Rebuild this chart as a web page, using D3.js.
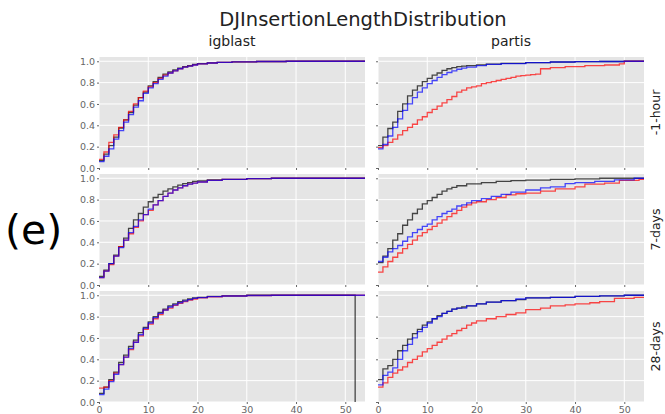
<!DOCTYPE html>
<html>
<head>
<meta charset="utf-8">
<script src="https://cdn.jsdelivr.net/npm/d3@7"></script>
<style>
  body { margin: 0; background: #fff; }
  text { font-family: "DejaVu Sans", sans-serif; }
</style>
</head>
<body>
<svg id="chart" width="665" height="414"></svg>
<script>
// facet layout labels
const methods = ["igblast", "partis"];
const timepoints = ["-1-hour", "7-days", "28-days"];
const xTicks = [0, 10, 20, 30, 40, 50];
const yTicks = [0, 0.2, 0.4, 0.6, 0.8, 1.0];
const seriesNames = ["black", "red", "blue"];

// cumulative fraction of sequences vs DJ insertion length
const igblast_1h_black = [[0,.07],[1,.13],[2,.21],[3,.29],[4,.375],[5,.45],[6,.52],[7,.59],[8,.66],[9,.71],[10,.77],[11,.81],[12,.85],[13,.88],[14,.90],[15,.92],[16,.935],[17,.95],[18,.96],[19,.97],[20,.977],[22,.985],[24,.99],[27,.995],[32,.998],[38,1],[54,1]];
const igblast_1h_red = [[0,.08],[1,.15],[2,.24],[3,.31],[4,.38],[5,.45],[6,.53],[7,.60],[8,.66],[9,.72],[10,.76],[11,.80],[12,.84],[13,.87],[14,.89],[15,.91],[16,.93],[17,.945],[18,.955],[19,.965],[20,.975],[22,.984],[24,.99],[27,.995],[32,.998],[38,1],[54,1]];
const igblast_1h_blue = [[0,.06],[1,.11],[2,.18],[3,.27],[4,.35],[5,.43],[6,.50],[7,.57],[8,.63],[9,.70],[10,.75],[11,.79],[12,.83],[13,.86],[14,.89],[15,.91],[16,.93],[17,.945],[18,.955],[19,.965],[20,.975],[22,.984],[24,.99],[27,.995],[32,.998],[38,1],[54,1]];

const partis_1h_black = [[0,.21],[1,.29],[2,.37],[3,.43],[4,.53],[5,.60],[6,.675],[7,.73],[8,.77],[9,.81],[10,.84],[11,.87],[12,.89],[13,.915],[14,.93],[15,.94],[16,.95],[17,.955],[18,.96],[20,.967],[22,.973],[25,.98],[30,.988],[35,.993],[40,.996],[45,.998],[50,1],[54,1]];
const partis_1h_red = [[0,.19],[1,.21],[2,.24],[3,.27],[4,.31],[5,.35],[6,.38],[7,.41],[8,.45],[9,.48],[10,.52],[11,.55],[12,.58],[13,.61],[14,.64],[15,.67],[16,.71],[17,.73],[18,.75],[19,.76],[20,.77],[21,.79],[22,.80],[23,.81],[24,.82],[25,.83],[26,.84],[27,.85],[28,.86],[29,.865],[30,.87],[31,.875],[32,.88],[33,.93],[35,.94],[38,.95],[42,.96],[46,.965],[49,.975],[50,1],[54,1]];
const partis_1h_blue = [[0,.18],[1,.22],[2,.30],[3,.38],[4,.46],[5,.54],[6,.60],[7,.66],[8,.71],[9,.75],[10,.79],[11,.82],[12,.85],[13,.875],[14,.895],[15,.91],[16,.925],[17,.935],[18,.945],[20,.96],[22,.97],[25,.978],[30,.988],[35,.993],[40,.996],[45,.998],[50,1],[54,1]];

const igblast_7d_black = [[0,.08],[1,.14],[2,.20],[3,.28],[4,.36],[5,.44],[6,.53],[7,.61],[8,.67],[9,.73],[10,.78],[11,.82],[12,.85],[13,.88],[14,.90],[15,.92],[16,.935],[17,.95],[18,.96],[19,.97],[20,.975],[22,.985],[25,.99],[30,.997],[35,1],[54,1]];
const igblast_7d_red = [[0,.07],[1,.13],[2,.19],[3,.27],[4,.36],[5,.42],[6,.48],[7,.54],[8,.60],[9,.66],[10,.70],[11,.75],[12,.79],[13,.83],[14,.86],[15,.89],[16,.91],[17,.93],[18,.945],[19,.955],[20,.965],[22,.98],[25,.99],[30,.997],[35,1],[54,1]];
const igblast_7d_blue = [[0,.07],[1,.13],[2,.20],[3,.27],[4,.35],[5,.42],[6,.49],[7,.55],[8,.61],[9,.66],[10,.71],[11,.75],[12,.79],[13,.83],[14,.86],[15,.89],[16,.91],[17,.93],[18,.945],[19,.955],[20,.965],[22,.98],[25,.99],[30,.997],[35,1],[54,1]];

const partis_7d_black = [[0,.21],[1,.27],[2,.34],[3,.42],[4,.48],[5,.56],[6,.61],[7,.67],[8,.71],[9,.76],[10,.79],[11,.82],[12,.85],[13,.88],[14,.90],[15,.915],[16,.93],[18,.947],[21,.96],[24,.97],[27,.978],[30,.983],[35,.99],[40,.995],[45,1],[54,1]];
const partis_7d_red = [[0,.12],[1,.17],[2,.22],[3,.26],[4,.30],[5,.34],[6,.38],[7,.42],[8,.46],[9,.49],[10,.52],[11,.55],[12,.58],[13,.61],[14,.64],[15,.67],[16,.70],[17,.73],[18,.75],[19,.77],[20,.78],[22,.80],[24,.82],[26,.845],[28,.855],[30,.86],[33,.88],[36,.90],[40,.92],[42,.945],[46,.955],[49,.98],[53,.99],[54,.99]];
const partis_7d_blue = [[0,.22],[1,.26],[2,.31],[3,.34],[4,.37],[5,.41],[6,.45],[7,.49],[8,.52],[9,.55],[10,.57],[11,.61],[12,.64],[13,.67],[14,.69],[15,.71],[16,.74],[17,.75],[18,.77],[19,.79],[21,.81],[23,.83],[25,.85],[27,.87],[30,.89],[33,.91],[35,.92],[38,.95],[40,.96],[44,.97],[48,.985],[52,1],[54,1]];

const igblast_28d_black = [[0,.08],[1,.14],[2,.21],[3,.28],[4,.37],[5,.44],[6,.52],[7,.58],[8,.65],[9,.70],[10,.75],[11,.80],[12,.84],[13,.87],[14,.90],[15,.92],[16,.94],[17,.955],[18,.965],[19,.975],[20,.98],[22,.99],[25,.995],[30,1],[52,0]];
const igblast_28d_red = [[0,.13],[1,.14],[2,.20],[3,.27],[4,.35],[5,.42],[6,.49],[7,.56],[8,.62],[9,.68],[10,.73],[11,.78],[12,.82],[13,.86],[14,.88],[15,.905],[16,.925],[17,.94],[18,.955],[19,.965],[20,.975],[22,.985],[25,.993],[30,.998],[35,1],[54,1]];
const igblast_28d_blue = [[0,.07],[1,.12],[2,.19],[3,.26],[4,.35],[5,.42],[6,.50],[7,.56],[8,.63],[9,.69],[10,.74],[11,.79],[12,.83],[13,.86],[14,.89],[15,.91],[16,.93],[17,.945],[18,.96],[19,.97],[20,.977],[22,.987],[25,.993],[30,.998],[35,1],[54,1]];

const partis_28d_black = [[0,.21],[1,.31],[2,.34],[3,.40],[4,.48],[5,.53],[6,.59],[7,.64],[8,.68],[9,.72],[10,.75],[11,.78],[12,.81],[13,.83],[14,.85],[15,.87],[16,.88],[17,.89],[18,.90],[20,.92],[22,.935],[25,.95],[28,.96],[30,.975],[35,.98],[40,.99],[45,.995],[50,1],[54,1]];
const partis_28d_red = [[0,.14],[1,.18],[2,.23],[3,.27],[4,.30],[5,.33],[6,.37],[7,.40],[8,.43],[9,.47],[10,.50],[11,.53],[12,.56],[13,.59],[14,.62],[15,.64],[16,.67],[17,.69],[18,.72],[19,.74],[20,.76],[22,.78],[24,.80],[26,.82],[28,.835],[30,.865],[33,.88],[35,.90],[38,.91],[40,.92],[43,.93],[45,.94],[48,.97],[52,.98],[54,.98]];
const partis_28d_blue = [[0,.16],[1,.25],[2,.28],[3,.32],[4,.40],[5,.48],[6,.54],[7,.60],[8,.66],[9,.70],[10,.74],[11,.78],[12,.80],[13,.83],[14,.85],[15,.87],[16,.88],[18,.90],[20,.92],[22,.935],[25,.95],[28,.965],[30,.975],[35,.98],[40,.99],[45,.995],[50,1],[54,1]];

const panelSeries = {
  "igblast|-1-hour": [igblast_1h_black, igblast_1h_red, igblast_1h_blue],
  "partis|-1-hour": [partis_1h_black, partis_1h_red, partis_1h_blue],
  "igblast|7-days": [igblast_7d_black, igblast_7d_red, igblast_7d_blue],
  "partis|7-days": [partis_7d_black, partis_7d_red, partis_7d_blue],
  "igblast|28-days": [igblast_28d_black, igblast_28d_red, igblast_28d_blue],
  "partis|28-days": [partis_28d_black, partis_28d_red, partis_28d_blue]
};

const colors = { black: "#000000", red: "#ff0000", blue: "#0000ff" };

const svg = d3.select("#chart");

const colX = [99, 378];
const rowY = [57, 174, 291];
const panelW = 266, panelH = 111;

svg.append("text")
  .attr("x", 363).attr("y", 26)
  .attr("text-anchor", "middle")
  .attr("font-size", 19.5)
  .attr("fill", "#222")
  .text("DJInsertionLengthDistribution");

svg.append("text")
  .attr("x", 5).attr("y", 244)
  .attr("font-size", 41)
  .attr("fill", "#000")
  .text("(e)");

methods.forEach(function (m, ci) {
  svg.append("text")
    .attr("x", colX[ci] + panelW / 2).attr("y", 46)
    .attr("text-anchor", "middle")
    .attr("font-size", 14)
    .attr("fill", "#222")
    .text(m);
});

timepoints.forEach(function (t, ri) {
  const cy = rowY[ri] + panelH / 2;
  svg.append("text")
    .attr("transform", "translate(660," + cy + ") rotate(-90)")
    .attr("text-anchor", "middle")
    .attr("font-size", 12.5)
    .attr("fill", "#222")
    .text(t);
});

const line = d3.line()
  .x(function (d) { return d[0]; })
  .y(function (d) { return d[1]; })
  .curve(d3.curveStepAfter);

timepoints.forEach(function (t, ri) {
  methods.forEach(function (m, ci) {
    const x = d3.scaleLinear().domain([0, 54]).range([colX[ci], colX[ci] + panelW]);
    const y = d3.scaleLinear().domain([0, 1.04]).range([rowY[ri] + panelH, rowY[ri]]);
    const g = svg.append("g");

    g.append("rect")
      .attr("x", colX[ci]).attr("y", rowY[ri])
      .attr("width", panelW).attr("height", panelH)
      .attr("fill", "#e5e5e5");

    g.selectAll(".vgrid").data(xTicks).join("line")
      .attr("x1", function (d) { return x(d); }).attr("x2", function (d) { return x(d); })
      .attr("y1", rowY[ri]).attr("y2", rowY[ri] + panelH)
      .attr("stroke", "#fff").attr("stroke-width", 1);
    g.selectAll(".hgrid").data(yTicks).join("line")
      .attr("x1", colX[ci]).attr("x2", colX[ci] + panelW)
      .attr("y1", function (d) { return y(d); }).attr("y2", function (d) { return y(d); })
      .attr("stroke", "#fff").attr("stroke-width", 1);

    const yAxis = d3.axisLeft(y).tickValues(yTicks).tickSize(2).tickPadding(2)
      .tickFormat(ci === 0 ? d3.format(".1f") : "");
    const xAxis = d3.axisBottom(x).tickValues(xTicks).tickSize(2).tickPadding(2)
      .tickFormat(ri === 2 ? d3.format("d") : "");

    const ya = g.append("g").attr("transform", "translate(" + colX[ci] + ",0)").call(yAxis);
    const xa = g.append("g").attr("transform", "translate(0," + (rowY[ri] + panelH) + ")").call(xAxis);
    [ya, xa].forEach(function (a) {
      a.select(".domain").remove();
      a.selectAll("line").attr("stroke", "#666");
      a.selectAll("text").attr("fill", "#666").attr("font-size", 9.5)
        .attr("font-family", "DejaVu Sans, sans-serif");
    });

    const series = panelSeries[m + "|" + t];
    g.selectAll(".ecdf").data(series).join("path")
      .attr("d", function (d) { return line(d.map(function (p) { return [x(p[0]), y(p[1])]; })); })
      .attr("fill", "none")
      .attr("stroke", function (d, i) { return colors[seriesNames[i]]; })
      .attr("stroke-opacity", 0.7)
      .attr("stroke-width", 1.3);
  });
});
</script>
</body>
</html>
